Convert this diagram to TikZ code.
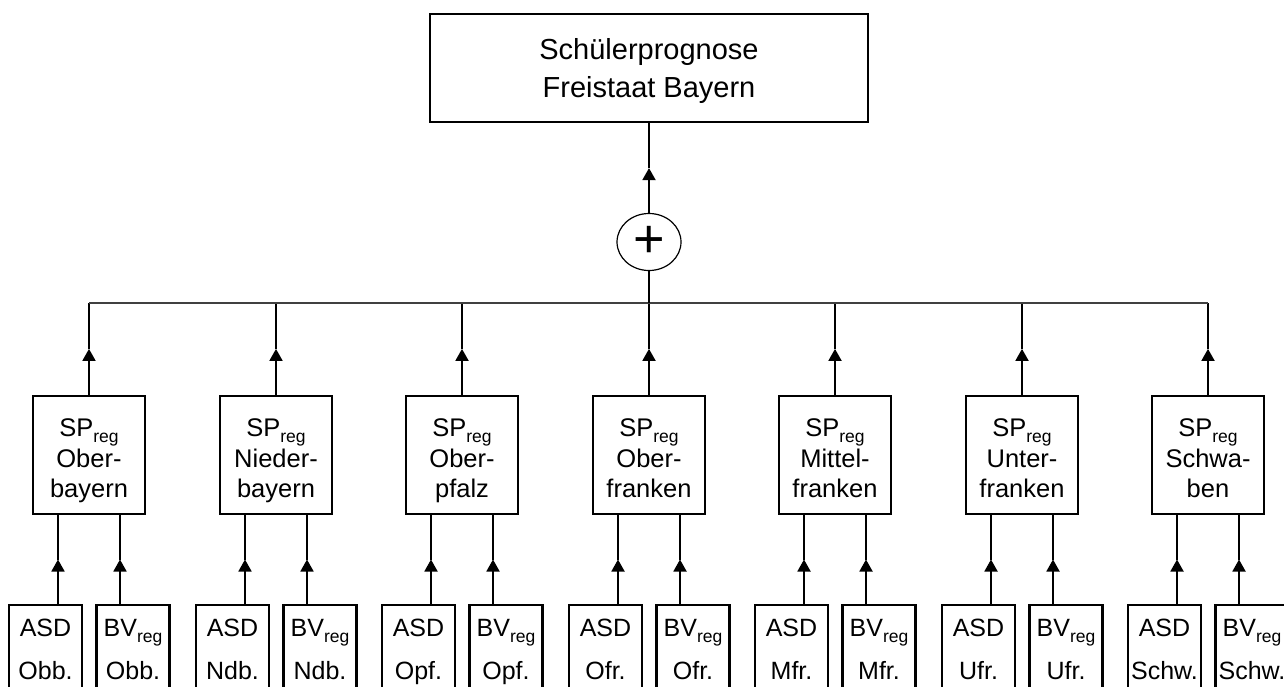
\documentclass[tikz,border=0pt]{standalone}
\usepackage{fontspec}
\setmainfont{Liberation Sans}
\usetikzlibrary{shapes.geometric,arrows.meta,calc}
\newcommand\myarrow[2]{%
  \draw[conn,tip] (#1) -- ($(#1)!0.5!(#2)$);
  \draw[conn] ($(#1)!0.5!(#2)$) -- (#2);}
\newcommand\subreg{\raisebox{-6pt}{\fontsize{17.5}{18}\selectfont reg}}
\begin{document}
\begin{tikzpicture}[x=1pt,y=-1pt,
  box/.style={draw, line width=2.5pt, rectangle, inner sep=0pt, align=center},
  topbox/.style={box, minimum width=438pt, minimum height=108pt, font=\fontsize{29}{38}\selectfont},
  spbox/.style={box, minimum width=112pt, minimum height=118pt, font=\fontsize{25.5}{30.5}\selectfont},
  leafbox/.style={box, minimum width=73pt, minimum height=87pt, font=\fontsize{25}{43}\selectfont},
  sumnode/.style={draw, ellipse, line width=1.2pt, minimum width=64pt, minimum height=57pt, inner sep=0pt, font=\fontsize{54}{54}\selectfont},
  conn/.style={line width=1.8pt},
  tip/.style={-{Triangle[width=13pt,length=12pt]}},
  busline/.style={line width=1.3pt, black!75}
]
\useasboundingbox (0,0) rectangle (1284,687);
\clip (0,0) rectangle (1284,687);
\node[topbox] (top) at (649,68) {\rule{0pt}{30.8pt}Schülerprognose\\Freistaat Bayern\rule[-10pt]{0pt}{10pt}};
\node[sumnode] (sum) at (649,242) {+};
\myarrow{sum.north}{top.south}
\foreach \i/\t/\a in {0/{Ober-\\bayern}/Obb., 1/{Nieder-\\bayern}/Ndb., 2/{Ober-\\pfalz}/Opf., 3/{Ober-\\franken}/Ofr., 4/{Mittel-\\franken}/Mfr., 5/{Unter-\\franken}/Ufr., 6/{Schwa-\\ben}/Schw.}{
  \pgfmathsetmacro\c{round(89+186.5*\i)}
  \node[spbox] (sp\i) at (\c,455) {\rule{0pt}{33pt}SP\subreg\\\t\rule[-9pt]{0pt}{9pt}};
  \node[leafbox] (asd\i) at (\c-43.5,648.5) {\rule{0pt}{28pt}ASD\\\a\rule[-10pt]{0pt}{10pt}};
  \node[leafbox] (bv\i) at (\c+44,648.5) {\rule{0pt}{28pt}BV\subreg\\\a\rule[-10pt]{0pt}{10pt}};
  \coordinate (bus\i) at (\c,303);
  \myarrow{sp\i.north}{bus\i}
  \coordinate (la\i) at ($(sp\i.south)+(-31,0)$);
  \coordinate (lb\i) at ($(sp\i.south)+(31,0)$);
  \myarrow{la\i |- asd\i.north}{la\i}
  \myarrow{lb\i |- bv\i.north}{lb\i}
}
\draw[busline] (bus0) -- (bus6);
\draw[conn] (sum.south) -- (sum.south |- bus3);
\end{tikzpicture}
\end{document}
